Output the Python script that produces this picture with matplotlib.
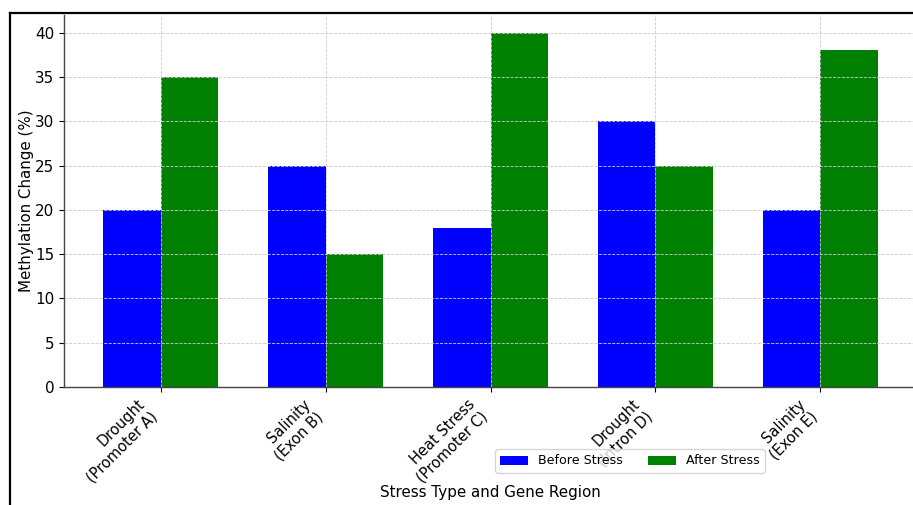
import numpy as np
import matplotlib
matplotlib.use('Agg')
import matplotlib.pyplot as plt
from matplotlib.lines import Line2D

# Data
categories = ['Drought\n(Promoter A)', 'Salinity\n(Exon B)', 'Heat Stress\n(Promoter C)',
              'Drought\n(Intron D)', 'Salinity\n(Exon E)']
before_stress = [20, 25, 18, 30, 20]
after_stress = [35, 15, 40, 25, 38]

W, H = 913, 505
fig = plt.figure(figsize=(W / 100, H / 100), dpi=100)

# axes placed so the right edge falls just outside the cropped screenshot
ax = fig.add_axes([64 / W, 118 / H, 853 / W, 372 / H])

x = np.arange(len(categories))
width = 0.35
ax.bar(x - width / 2, before_stress, width, color='blue', label='Before Stress')
ax.bar(x + width / 2, after_stress, width, color='green', label='After Stress')

ax.set_xticks(x)
ax.set_xticklabels(categories, rotation=45, ha='right', fontsize=10.5)
ax.tick_params(axis='y', labelsize=10.9)
ax.set_ylabel('Methylation Change (%)', fontsize=10.9)
ax.set_xlabel('Stress Type and Gene Region', fontsize=10.9)
ax.yaxis.set_label_coords(-0.035, 0.5)
ax.xaxis.set_label_coords(0.5, -0.263)
ax.grid(True, linestyle='--', linewidth=0.6, color='#cccccc')
ax.spines['top'].set_visible(False)
ax.spines['right'].set_visible(False)
for s in ('left', 'bottom'):
    ax.spines[s].set_linewidth(1.0)
    ax.spines[s].set_color('#444444')

ax.legend(ncol=2, fontsize=9.1, loc='center', handlelength=2.2,
          bbox_to_anchor=(630 / W, 1 - 461 / H), bbox_transform=fig.transFigure)

# black frame of the screenshot (top and left edges)
fig.add_artist(Line2D([10 / W, 1], [1 - 13 / H, 1 - 13 / H], color='black', linewidth=1.6,
                      transform=fig.transFigure))
fig.add_artist(Line2D([10 / W, 10 / W], [0, 1 - 13 / H], color='black', linewidth=1.6,
                      transform=fig.transFigure))

fig.savefig('out.png', dpi=100)
